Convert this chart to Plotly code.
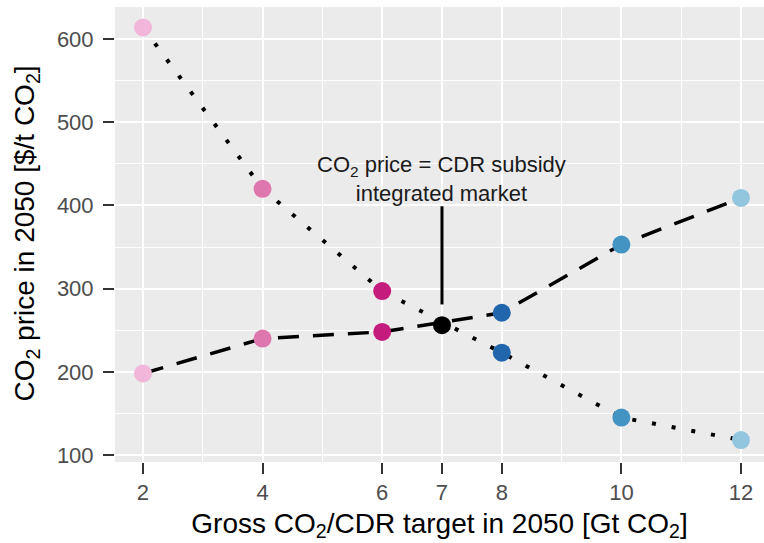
import plotly.graph_objects as go

# Data
x_vals = [2, 4, 6, 8, 10, 12]
co2_price = [614, 420, 297, 223, 145, 118]       # dotted series
cdr_subsidy = [198, 240, 248, 271, 353, 409]     # dashed series
point_colors = ["#f1b6da", "#de77ae", "#c51b7d", "#2166ac", "#4393c3", "#92c5de"]
market_x = [7]
market_y = [256]
x_ticks = [2, 4, 6, 7, 8, 10, 12]
y_ticks = [100, 200, 300, 400, 500, 600]

FONT = "Liberation Sans, Arial, Helvetica, sans-serif"

fig = go.Figure()

fig.add_trace(go.Scatter(x=x_vals, y=co2_price, mode="lines",
                         line=dict(color="black", width=4, dash="4px,16px"),
                         hoverinfo="skip"))
fig.add_trace(go.Scatter(x=x_vals, y=cdr_subsidy, mode="lines",
                         line=dict(color="black", width=3.5, dash="21px,14px"),
                         hoverinfo="skip"))
fig.add_trace(go.Scatter(x=x_vals, y=co2_price, mode="markers",
                         marker=dict(color=point_colors, size=18, line=dict(width=0))))
fig.add_trace(go.Scatter(x=x_vals, y=cdr_subsidy, mode="markers",
                         marker=dict(color=point_colors, size=18, line=dict(width=0))))
fig.add_trace(go.Scatter(x=market_x, y=market_y, mode="markers",
                         marker=dict(color="black", size=18, line=dict(width=0))))

# annotation pointer line
fig.add_shape(type="line", x0=7, x1=7, y0=281, y1=399, xref="x", yref="y",
              line=dict(color="black", width=3))
fig.add_annotation(x=7, y=397, xref="x", yref="y", yanchor="bottom", xanchor="center",
                   text="CO<sub>2</sub> price = CDR subsidy<br>integrated market",
                   showarrow=False, align="center",
                   font=dict(family=FONT, size=22, color="#1a1a1a"))

# y-axis title as annotation for exact placement
fig.add_annotation(x=-0.1356, y=0.502, xref="paper", yref="paper",
                   xanchor="center", yanchor="middle", textangle=-90,
                   text="CO<sub>2</sub> price in 2050 [$/t CO<sub>2</sub>]",
                   showarrow=False,
                   font=dict(family=FONT, size=28, color="black"))

fig.update_layout(
    width=764, height=543,
    margin=dict(l=115, r=0, t=7, b=81),
    paper_bgcolor="white",
    plot_bgcolor="#ebebeb",
    showlegend=False,
    font=dict(family=FONT),
)

fig.update_xaxes(
    range=[1.532, 12.385],
    tickmode="array", tickvals=x_ticks, ticktext=[str(v) for v in x_ticks],
    showgrid=True, gridcolor="white", gridwidth=2.2,
    minor=dict(tickmode="array", tickvals=[3, 5, 9, 11], showgrid=True,
               gridcolor="white", gridwidth=1.2, ticks=""),
    ticks="outside", ticklen=11, tickwidth=2, tickcolor="#333333",
    tickfont=dict(family=FONT, size=22, color="#4d4d4d"),
    zeroline=False, showline=False,
    title=dict(text="Gross CO<sub>2</sub>/CDR target in 2050 [Gt CO<sub>2</sub>]",
               font=dict(family=FONT, size=28, color="black"), standoff=8),
)

fig.update_yaxes(
    range=[91.6, 638.5],
    tickmode="array", tickvals=y_ticks, ticktext=[str(v) for v in y_ticks],
    showgrid=True, gridcolor="white", gridwidth=2.2,
    minor=dict(tickmode="array", tickvals=[150, 250, 350, 450, 550], showgrid=True,
               gridcolor="white", gridwidth=1.2, ticks=""),
    ticks="outside", ticklen=11, tickwidth=2, tickcolor="#333333",
    tickfont=dict(family=FONT, size=22, color="#4d4d4d"),
    ticklabelstandoff=5,
    zeroline=False, showline=False,
)

fig.write_html("out.html")
